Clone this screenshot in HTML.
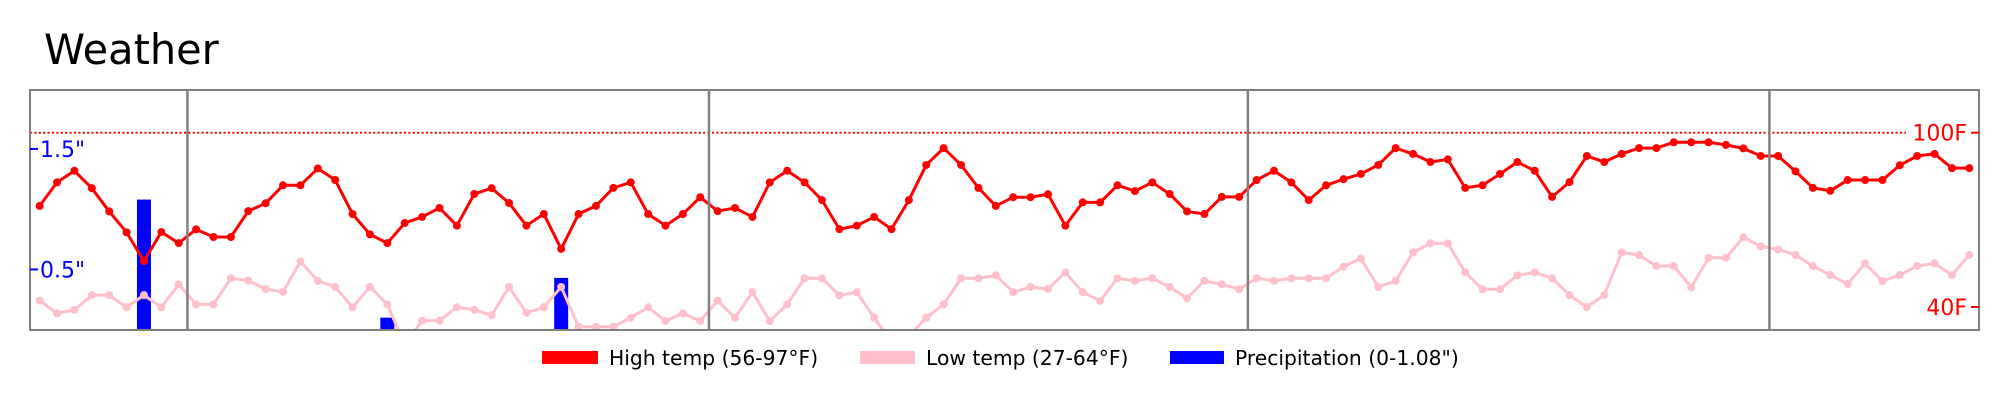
<!DOCTYPE html>
<html><head><meta charset="utf-8"><style>
html,body{margin:0;padding:0;background:#fff;}
svg{display:block;font-family:"DejaVu Sans","Liberation Sans",sans-serif;}
</style></head><body>
<svg id="chart" width="2009" height="407" viewBox="0 0 2009 407" xmlns="http://www.w3.org/2000/svg">
<text x="44" y="64" font-size="41.5" fill="#000">Weather</text>
<defs><clipPath id="plotclip"><rect x="30" y="90" width="1949" height="240"/></clipPath></defs>
<g id="bars" clip-path="url(#plotclip)"></g>
<g id="lines" clip-path="url(#plotclip)"></g>
<g id="frame"></g>
<g>
 <rect x="542" y="351" width="56" height="13" fill="#ff0000"/>
 <text x="609" y="365" font-size="20.3">High temp (56-97°F)</text>
 <rect x="860" y="351" width="55" height="13" fill="#ffc0cb"/>
 <text x="926" y="365" font-size="20.3">Low temp (27-64°F)</text>
 <rect x="1170" y="351" width="54" height="13" fill="#0000ff"/>
 <text x="1235" y="365" font-size="20.3">Precipitation (0-1.08")</text>
</g>
</svg>
<script>
const highTemps = [74.8,82.9,86.9,80.9,72.9,65.7,55.8,65.8,62,66.7,64.1,64.1,73,75.7,81.9,81.9,87.7,83.7,72,65,62,68.9,71,74.1,68,78.9,80.9,75.8,68,72,60,72,74.8,81,82.9,72,68,72,77.8,73,74.1,71,82.9,86.9,82.9,76.8,66.8,68,71,66.8,76.8,88.9,94.7,88.9,81,74.8,77.8,77.8,78.8,68,76,76,81.9,79.9,82.9,78.9,72.9,72,77.9,77.9,83.7,86.9,82.9,76.8,81.9,84,85.8,88.9,94.7,92.7,89.9,90.8,81,81.9,85.8,89.9,86.9,77.9,83,92,89.9,92.7,94.7,94.7,96.7,96.7,96.7,95.8,94.6,92,92,86.7,81,80,83.7,83.7,83.7,88.8,92,92.7,87.8,87.8];
const lowTemps = [42.2,37.8,39,44.1,44.1,39.9,44.1,39.9,47.8,40.9,40.9,49.9,49.1,46.2,45.2,55.7,49,46.9,39.9,46.9,40.9,27,35.3,35.3,39.9,39,37.2,46.9,38,39.9,46.9,33.2,33.2,33.2,36.3,39.9,35.2,37.8,35.2,42.2,36.3,45.1,35.2,40.9,49.9,49.9,44,45.1,36.3,28,30,36.3,40.9,49.9,49.9,50.9,45.1,46.9,46.2,51.9,45.1,42.1,49.9,49,49.9,46.9,43,49,47.8,46.1,49.9,49,49.9,49.9,49.9,53.9,56.7,46.9,49,58.8,61.9,61.9,51.9,46.1,46.1,50.9,51.9,49.9,44.1,40,44.1,58.8,57.9,54.1,54.1,46.8,56.9,56.9,64,60.9,59.8,57.9,54.1,51,47.9,55,48.9,51,54.1,55,51,57.9];
const precipDays = [6,20,30];
const precipValues = [1.08,0.1,0.43];
const monthBoundaries = [8.5,38.5,69.5,99.5];
const tempTicks = [100,40];
const tempTickLabels = ["100F","40F"];
const precipTicks = [1.5,0.5];
const precipTickLabels = ['1.5"','0.5"'];

const NS="http://www.w3.org/2000/svg";
const L=30,R=1979,T=90,B=330;
const xMin=-0.555,xMax=111.555;
function xS(i){return L+(i-xMin)/(xMax-xMin)*(R-L);}
function yT(t){return 132.7+(100-t)*2.905;}
function yP(p){return 329.7-p*120.5;}
function mk(tag,attrs,parent){const e=document.createElementNS(NS,tag);for(const k in attrs)e.setAttribute(k,attrs[k]);parent.appendChild(e);return e;}
const bars=document.getElementById('bars'),lines=document.getElementById('lines'),frame=document.getElementById('frame');

precipDays.forEach((d,i)=>{
 const y=yP(precipValues[i]);
 const r=mk('rect',{x:xS(d)-7,y:y,width:14,height:329.7-y,fill:'#0000ff'},bars);
 
 
});

function series(vals,color,name){
 const p=mk('polyline',{points:vals.map((v,i)=>xS(i)+','+yT(v)).join(' '),fill:'none',stroke:color,'stroke-width':3,'stroke-linejoin':'round'},lines);
 
 
 vals.forEach((v,i)=>{
  const c=mk('circle',{cx:xS(i),cy:yT(v),r:4,fill:color},lines);
  
  
 });
}
series(lowTemps,'#ffc0cb','low-temp');
series(highTemps,'#ff0000','high-temp');

const ref=mk('line',{x1:L,x2:1906,y1:yT(100),y2:yT(100),stroke:'#ff0000','stroke-width':2,'stroke-dasharray':'2 2.4'},frame);



monthBoundaries.forEach(m=>{
 const l=mk('line',{x1:xS(m),x2:xS(m),y1:T,y2:B,stroke:'#808080','stroke-width':2.5},frame);
 
 
});
const fr=mk('rect',{x:L,y:T,width:R-L,height:B-T,fill:'none',stroke:'#808080','stroke-width':2},frame);



precipTicks.forEach((p,i)=>{
 const y=yP(p);
 const t=mk('line',{x1:L,x2:L+8,y1:y,y2:y,stroke:'#0000ff','stroke-width':2},frame);
 
 
 const tx=mk('text',{x:L+10,y:y+8,'font-size':22,fill:'#0000ff'},frame);
 tx.textContent=precipTickLabels[i];
 
 
});
tempTicks.forEach((v,i)=>{
 const y=yT(v);
 const t=mk('line',{x1:R-8,x2:R,y1:y,y2:y,stroke:'#ff0000','stroke-width':2},frame);
 
 
 const tx=mk('text',{x:R-12,y:y+8,'font-size':22,fill:'#ff0000','text-anchor':'end'},frame);
 tx.textContent=tempTickLabels[i];
 
 
});
</script>
</body></html>
